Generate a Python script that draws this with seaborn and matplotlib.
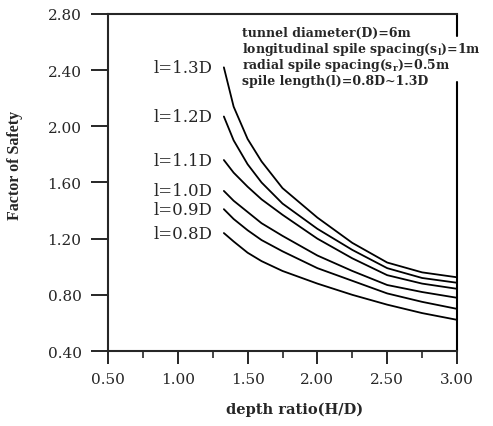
import numpy as np
import pandas as pd
import matplotlib
matplotlib.use("Agg")
import matplotlib.pyplot as plt
import seaborn as sns
from matplotlib.ticker import MultipleLocator

# ---- data ----
depth_ratio = [1.33, 1.40, 1.50, 1.60, 1.75, 2.00, 2.25, 2.50, 2.75, 3.00]
fs_13D = [2.42, 2.14, 1.91, 1.75, 1.56, 1.35, 1.17, 1.03, 0.96, 0.925]
fs_12D = [2.07, 1.90, 1.73, 1.60, 1.45, 1.27, 1.12, 0.99, 0.92, 0.886]
fs_11D = [1.76, 1.67, 1.57, 1.48, 1.37, 1.20, 1.06, 0.94, 0.88, 0.843]
fs_10D = [1.54, 1.47, 1.39, 1.31, 1.22, 1.08, 0.97, 0.87, 0.82, 0.779]
fs_09D = [1.41, 1.34, 1.26, 1.19, 1.11, 0.99, 0.90, 0.81, 0.75, 0.700]
fs_08D = [1.24, 1.18, 1.10, 1.04, 0.97, 0.88, 0.80, 0.73, 0.67, 0.622]
curve_labels = ["l=1.3D", "l=1.2D", "l=1.1D", "l=1.0D", "l=0.9D", "l=0.8D"]
x_ticks = [0.50, 1.00, 1.50, 2.00, 2.50, 3.00]
y_ticks = [0.40, 0.80, 1.20, 1.60, 2.00, 2.40, 2.80]
note_lines = ["tunnel diameter(D)=6m",
              "longitudinal spile spacing(s$_{\\mathregular{l}}$)=1m",
              "radial spile spacing(s$_{\\mathregular{r}}$)=0.5m",
              "spile length(l)=0.8D~1.3D"]

series = [fs_13D, fs_12D, fs_11D, fs_10D, fs_09D, fs_08D]
df = pd.concat([pd.DataFrame({"H/D": depth_ratio, "FS": s, "curve": lab})
                for s, lab in zip(series, curve_labels)], ignore_index=True)

sns.set_style("ticks")
plt.rcParams["font.family"] = ["DejaVu Serif", "Liberation Serif"]
plt.rcParams["mathtext.fontset"] = "dejavuserif"

fig = plt.figure(figsize=(4.93, 4.27), dpi=100)
ax = fig.add_axes([108/493, 1-352/427, (457-108)/493, (352-15)/427])

sns.lineplot(data=df, x="H/D", y="FS", hue="curve", hue_order=curve_labels,
             palette=["black"]*6, legend=False, ax=ax, linewidth=1.3, sort=True)

ax.set_xlim(0.5, 3.0)
ax.set_ylim(0.4, 2.8)
ax.set_xticks(x_ticks)
ax.set_xticklabels([f"{v:.2f}" for v in x_ticks])
ax.set_yticks(y_ticks)
ax.set_yticklabels([f"{v:.2f}" for v in y_ticks])
ax.xaxis.set_minor_locator(MultipleLocator(0.25))
ax.tick_params(axis="y", direction="out", length=12, width=1.4, pad=7, labelsize=11)
ax.tick_params(axis="x", which="major", direction="out", length=9, width=1.4, pad=6, labelsize=11)
ax.tick_params(axis="x", which="minor", direction="out", length=5, width=1.2)

for sp in ["left", "bottom", "top"]:
    ax.spines[sp].set_linewidth(1.5)
ax.spines["right"].set_visible(False)
# right frame line, interrupted by the note text as in the reference
ax.plot([1, 1], [1, 1-(37-15)/337], transform=ax.transAxes, color="black", lw=1.5, clip_on=False)
ax.plot([1, 1], [1-(83-15)/337, 0], transform=ax.transAxes, color="black", lw=1.5, clip_on=False)

ax.set_xlabel("")
ax.set_ylabel("")
fig.text(295/493, 1-410/427, "depth ratio(H/D)", ha="center", va="center",
         fontsize=10.5, fontweight="bold")
fig.text(15/493, 1-165/427, "Factor of Safety", ha="center", va="center",
         rotation=90, fontsize=11.5, fontweight="bold", family="Liberation Serif")

# curve labels placed to the left of each curve's start
for s, lab in zip(series, curve_labels):
    ax.text(1.25, s[0], lab, ha="right", va="center", fontsize=12)

# parameter note
for i, line in enumerate(note_lines):
    fig.text(242/493, 1-(33+16.3*i)/427, line, ha="left", va="center",
             fontsize=9, fontweight="bold")

fig.savefig("out.png", dpi=100)
